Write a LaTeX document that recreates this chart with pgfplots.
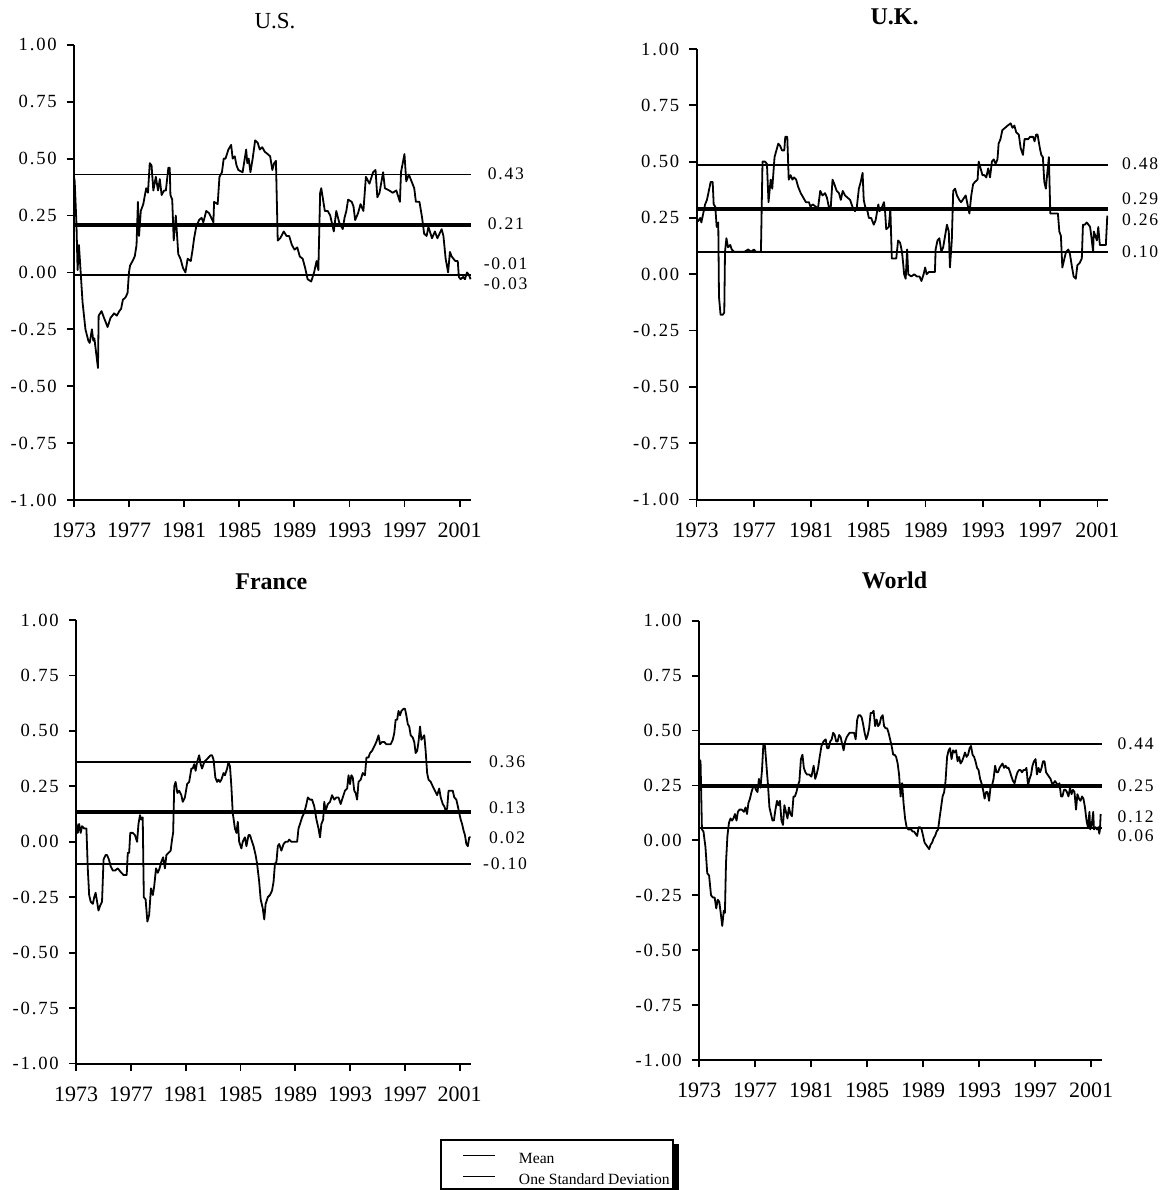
\documentclass[border=0pt]{standalone}
\usepackage{fontspec}
\setmainfont{Liberation Serif}
\newfontfamily\yfont[LetterSpace=10]{Liberation Serif}
\usepackage{pgfplots}
\pgfplotsset{compat=1.18}
\tikzset{vlab/.style={font=\yfont\fontsize{8.8bp}{10bp}\selectfont, anchor=west, inner sep=0pt}}
\pgfplotsset{
  panel/.style={
    scale only axis, anchor=south west, clip=false,
    axis lines=left, axis line style={-, line width=1bp},
    xmin=0, ymin=-1, ymax=1,
    xtick={0,4,...,28}, xticklabels={1973,1977,1981,1985,1989,1993,1997,2001},
    ytick={-1,-0.75,-0.5,-0.25,0,0.25,0.5,0.75,1},
    yticklabels={-1.00,-0.75,-0.50,-0.25,0.00,0.25,0.50,0.75,1.00},
    tick align=outside, major tick length=3.6bp,
    tick style={line width=0.9bp, black},
    minor tick num=0,
    xticklabel style={font=\fontsize{11bp}{13bp}\selectfont, yshift=-4.5bp},
    yticklabel style={font=\yfont\fontsize{9.3bp}{11bp}\selectfont, xshift=-1.5bp},
  },
  data/.style={black, line width=0.9bp, line join=round},
  meanl/.style={black, line width=1.9bp},
  sdl/.style={black, line width=0.9bp},
}
\begin{document}
\begin{tikzpicture}
\path[use as bounding box] (0,0) rectangle (583.5bp,-595bp);

% ---------------- U.S.
\begin{axis}[panel, at={(37bp,-250bp)}, width=198.7bp, height=227.6bp, xmax=28.85]
\addplot[sdl] coordinates {(0,0.43) (28.85,0.43)};
\addplot[meanl] coordinates {(0,0.21) (28.85,0.21)};
\addplot[sdl] coordinates {(0,-0.01) (28.85,-0.01)};
\addplot[data] coordinates {(0.00,0.42) (0.05,0.40) (0.18,0.21) (0.26,0.01) (0.36,0.12) (0.62,-0.13) (0.83,-0.25) (1.04,-0.30) (1.14,-0.31) (1.30,-0.25) (1.40,-0.30) (1.48,-0.29) (1.56,-0.33) (1.74,-0.42) (1.79,-0.19) (2.00,-0.17) (2.18,-0.20) (2.44,-0.24) (2.65,-0.20) (2.91,-0.18) (3.11,-0.19) (3.29,-0.17) (3.42,-0.16) (3.55,-0.12) (3.74,-0.11) (3.89,-0.09) (3.99,0.00) (4.07,0.03) (4.25,0.05) (4.41,0.07) (4.54,0.12) (4.64,0.31) (4.72,0.16) (4.85,0.27) (5.03,0.30) (5.24,0.37) (5.37,0.35) (5.50,0.48) (5.63,0.47) (5.76,0.36) (5.94,0.42) (6.10,0.36) (6.23,0.41) (6.36,0.34) (6.54,0.36) (6.67,0.36) (6.85,0.46) (6.95,0.46) (7.00,0.34) (7.13,0.32) (7.24,0.14) (7.39,0.25) (7.57,0.08) (7.73,0.06) (7.91,0.02) (8.09,0.00) (8.25,0.06) (8.48,0.05) (8.61,0.10) (8.72,0.15) (8.87,0.20) (9.08,0.23) (9.26,0.24) (9.39,0.22) (9.60,0.27) (9.81,0.26) (10.12,0.22) (10.17,0.31) (10.43,0.30) (10.56,0.42) (10.74,0.44) (10.87,0.50) (11.00,0.50) (11.21,0.54) (11.41,0.56) (11.52,0.50) (11.67,0.51) (11.80,0.47) (11.93,0.45) (12.24,0.44) (12.50,0.54) (12.58,0.48) (12.68,0.50) (12.81,0.44) (12.97,0.50) (13.15,0.58) (13.33,0.57) (13.49,0.54) (13.67,0.55) (13.85,0.53) (14.06,0.52) (14.24,0.51) (14.40,0.45) (14.53,0.48) (14.66,0.49) (14.79,0.14) (14.97,0.15) (15.23,0.18) (15.43,0.16) (15.62,0.16) (15.82,0.12) (16.01,0.10) (16.21,0.11) (16.39,0.07) (16.60,0.06) (16.78,0.02) (16.96,-0.03) (17.22,-0.04) (17.43,0.00) (17.61,0.05) (17.74,0.01) (17.87,0.35) (17.95,0.37) (18.08,0.32) (18.21,0.27) (18.42,0.27) (18.60,0.25) (18.86,0.18) (19.04,0.27) (19.25,0.22) (19.51,0.19) (19.64,0.24) (19.77,0.27) (19.90,0.32) (20.16,0.31) (20.29,0.29) (20.41,0.23) (20.62,0.26) (20.80,0.30) (21.01,0.27) (21.19,0.42) (21.45,0.39) (21.71,0.44) (21.89,0.45) (22.02,0.33) (22.18,0.35) (22.44,0.44) (22.57,0.37) (22.88,0.36) (23.14,0.35) (23.40,0.36) (23.66,0.31) (23.74,0.44) (23.99,0.52) (24.12,0.40) (24.31,0.43) (24.57,0.39) (24.70,0.37) (24.82,0.31) (25.08,0.31) (25.27,0.24) (25.42,0.17) (25.60,0.16) (25.73,0.20) (25.99,0.15) (26.20,0.18) (26.38,0.15) (26.69,0.19) (26.82,0.16) (26.98,0.06) (27.16,0.00) (27.29,0.09) (27.42,0.07) (27.68,0.05) (27.86,0.05) (27.94,-0.02) (28.07,-0.03) (28.25,-0.02) (28.38,-0.03) (28.53,0.00) (28.66,-0.01) (28.79,-0.03)};
\node[vlab, xshift=8bp] at (axis cs:28.85,0.434) {0.43};
\node[vlab, xshift=8bp] at (axis cs:28.85,0.215) {0.21};
\node[vlab, xshift=6bp] at (axis cs:28.85,0.038) {-0.01};
\node[vlab, xshift=6bp] at (axis cs:28.85,-0.050) {-0.03};
\end{axis}

% ---------------- U.K.
\begin{axis}[panel, at={(348.25bp,-249.75bp)}, width=205.75bp, height=225.25bp, xmax=28.74]
\addplot[sdl] coordinates {(0,0.485) (28.74,0.485)};
\addplot[meanl] coordinates {(0,0.29) (28.74,0.29)};
\addplot[sdl] coordinates {(0,0.10) (28.74,0.10)};
\addplot[data] coordinates {(0.00,0.23) (0.16,0.24) (0.26,0.25) (0.34,0.23) (0.47,0.27) (0.60,0.31) (0.73,0.33) (0.86,0.37) (0.99,0.41) (1.13,0.41) (1.20,0.31) (1.31,0.30) (1.41,0.21) (1.52,0.23) (1.57,-0.10) (1.68,-0.18) (1.83,-0.18) (1.94,-0.17) (1.99,0.10) (2.09,0.16) (2.20,0.12) (2.36,0.13) (2.46,0.11) (2.62,0.10) (2.83,0.10) (3.04,0.10) (3.35,0.10) (3.61,0.11) (3.82,0.10) (4.01,0.11) (4.14,0.10) (4.40,0.10) (4.50,0.10) (4.61,0.50) (4.79,0.50) (4.92,0.49) (5.03,0.32) (5.18,0.42) (5.29,0.38) (5.45,0.52) (5.58,0.55) (5.71,0.58) (5.84,0.57) (5.97,0.55) (6.13,0.55) (6.20,0.61) (6.34,0.61) (6.44,0.42) (6.57,0.44) (6.70,0.42) (6.81,0.43) (6.96,0.42) (7.09,0.39) (7.28,0.36) (7.46,0.34) (7.64,0.32) (7.85,0.32) (7.96,0.30) (8.12,0.31) (8.33,0.30) (8.48,0.29) (8.64,0.37) (8.80,0.35) (8.98,0.36) (9.11,0.34) (9.27,0.29) (9.37,0.29) (9.50,0.42) (9.63,0.40) (9.79,0.37) (9.95,0.36) (10.08,0.33) (10.21,0.37) (10.37,0.35) (10.55,0.34) (10.73,0.33) (10.89,0.30) (11.07,0.28) (11.20,0.30) (11.34,0.38) (11.47,0.41) (11.60,0.45) (11.68,0.33) (11.78,0.30) (11.94,0.28) (12.04,0.25) (12.20,0.25) (12.38,0.22) (12.51,0.24) (12.70,0.31) (12.78,0.28) (12.91,0.29) (13.09,0.32) (13.17,0.28) (13.25,0.20) (13.43,0.21) (13.54,0.29) (13.64,0.07) (13.77,0.07) (13.95,0.07) (14.08,0.15) (14.22,0.14) (14.35,0.10) (14.43,0.05) (14.50,0.00) (14.61,-0.02) (14.71,0.11) (14.79,0.00) (15.00,-0.01) (15.21,0.00) (15.39,-0.01) (15.58,-0.01) (15.71,-0.03) (15.86,0.00) (15.97,0.03) (16.07,0.00) (16.23,0.01) (16.39,0.01) (16.55,0.01) (16.65,0.01) (16.70,0.11) (16.83,0.15) (16.96,0.16) (17.10,0.10) (17.23,0.12) (17.36,0.17) (17.49,0.22) (17.62,0.19) (17.70,0.03) (17.83,0.15) (17.93,0.37) (18.06,0.38) (18.19,0.35) (18.35,0.33) (18.48,0.32) (18.59,0.33) (18.80,0.35) (18.93,0.31) (19.06,0.27) (19.19,0.35) (19.32,0.40) (19.45,0.41) (19.63,0.42) (19.71,0.50) (19.84,0.47) (19.97,0.44) (20.11,0.44) (20.24,0.43) (20.37,0.47) (20.50,0.43) (20.63,0.50) (20.76,0.51) (20.89,0.49) (21.02,0.51) (21.10,0.58) (21.23,0.60) (21.36,0.64) (21.55,0.65) (21.73,0.66) (21.94,0.67) (22.07,0.65) (22.20,0.66) (22.33,0.63) (22.51,0.62) (22.64,0.56) (22.80,0.53) (22.91,0.60) (23.04,0.60) (23.17,0.60) (23.30,0.61) (23.51,0.61) (23.61,0.59) (23.72,0.62) (23.82,0.62) (23.98,0.56) (24.08,0.53) (24.19,0.52) (24.29,0.41) (24.40,0.38) (24.50,0.45) (24.61,0.52) (24.71,0.27) (24.87,0.27) (25.08,0.27) (25.24,0.27) (25.34,0.19) (25.45,0.17) (25.55,0.03) (25.66,0.06) (25.81,0.10) (25.97,0.11) (26.08,0.09) (26.23,0.03) (26.34,-0.01) (26.49,-0.02) (26.60,0.04) (26.76,0.05) (26.91,0.07) (26.99,0.22) (27.12,0.22) (27.25,0.23) (27.38,0.22) (27.49,0.21) (27.57,0.17) (27.70,0.10) (27.75,0.19) (27.86,0.17) (27.96,0.15) (28.06,0.21) (28.17,0.13) (28.27,0.13) (28.38,0.13) (28.54,0.13) (28.59,0.13) (28.69,0.26)};
\node[vlab, xshift=6.9bp] at (axis cs:28.74,0.489) {0.48};
\node[vlab, xshift=6.9bp] at (axis cs:28.74,0.336) {0.29};
\node[vlab, xshift=6.9bp] at (axis cs:28.74,0.244) {0.26};
\node[vlab, xshift=6.9bp] at (axis cs:28.74,0.101) {0.10};
\end{axis}

% ---------------- France
\begin{axis}[panel, at={(38bp,-531.75bp)}, width=197.7bp, height=221.75bp, xmax=28.86]
\addplot[sdl] coordinates {(0,0.36) (28.86,0.36)};
\addplot[meanl] coordinates {(0,0.135) (28.86,0.135)};
\addplot[sdl] coordinates {(0,-0.10) (28.86,-0.10)};
\addplot[data] coordinates {(0.02,0.05) (0.05,0.08) (0.13,0.04) (0.23,0.08) (0.34,0.04) (0.44,0.07) (0.60,0.06) (0.76,0.06) (0.86,-0.12) (0.96,-0.24) (1.07,-0.27) (1.23,-0.28) (1.33,-0.25) (1.43,-0.23) (1.54,-0.27) (1.64,-0.31) (1.75,-0.29) (1.90,-0.27) (2.01,-0.08) (2.16,-0.06) (2.27,-0.06) (2.40,-0.08) (2.53,-0.11) (2.69,-0.13) (2.84,-0.13) (3.05,-0.12) (3.18,-0.13) (3.31,-0.14) (3.47,-0.15) (3.70,-0.15) (3.78,-0.05) (3.88,-0.05) (3.96,0.04) (4.15,0.04) (4.30,0.03) (4.46,0.00) (4.56,0.08) (4.67,0.12) (4.77,0.10) (4.87,0.11) (4.95,-0.25) (5.08,-0.26) (5.21,-0.36) (5.34,-0.33) (5.47,-0.21) (5.61,-0.24) (5.71,-0.20) (5.84,-0.12) (5.97,-0.14) (6.10,-0.12) (6.23,-0.09) (6.36,-0.07) (6.49,-0.12) (6.60,-0.06) (6.75,-0.05) (6.91,-0.04) (7.01,0.01) (7.09,0.04) (7.17,0.25) (7.27,0.27) (7.40,0.22) (7.53,0.23) (7.69,0.21) (7.79,0.18) (7.95,0.20) (8.11,0.26) (8.26,0.27) (8.42,0.33) (8.52,0.33) (8.63,0.35) (8.73,0.32) (8.84,0.36) (8.99,0.39) (9.10,0.35) (9.20,0.33) (9.36,0.36) (9.52,0.37) (9.67,0.38) (9.83,0.39) (9.93,0.39) (10.04,0.37) (10.17,0.29) (10.30,0.27) (10.40,0.28) (10.51,0.27) (10.61,0.28) (10.77,0.31) (10.87,0.30) (11.03,0.33) (11.13,0.36) (11.24,0.34) (11.34,0.25) (11.44,0.13) (11.60,0.06) (11.71,0.04) (11.81,0.09) (11.91,0.00) (12.07,-0.03) (12.17,0.00) (12.33,0.02) (12.44,-0.02) (12.59,0.03) (12.70,0.03) (12.85,0.00) (12.96,-0.02) (13.11,-0.06) (13.22,-0.10) (13.37,-0.18) (13.48,-0.26) (13.63,-0.30) (13.74,-0.35) (13.84,-0.28) (14.00,-0.25) (14.16,-0.24) (14.31,-0.22) (14.42,-0.18) (14.52,-0.10) (14.63,-0.09) (14.73,-0.02) (14.83,-0.01) (14.99,-0.04) (15.15,-0.01) (15.30,0.00) (15.46,0.00) (15.56,0.01) (15.72,0.00) (15.88,0.00) (16.03,0.00) (16.14,0.00) (16.24,0.06) (16.35,0.08) (16.50,0.11) (16.66,0.13) (16.82,0.17) (16.92,0.20) (17.08,0.19) (17.23,0.19) (17.39,0.16) (17.55,0.10) (17.70,0.06) (17.81,0.02) (17.91,0.08) (18.04,0.10) (18.12,0.18) (18.22,0.14) (18.38,0.17) (18.54,0.18) (18.69,0.21) (18.85,0.19) (19.01,0.20) (19.16,0.20) (19.32,0.17) (19.47,0.20) (19.63,0.23) (19.79,0.24) (19.89,0.30) (20.00,0.26) (20.10,0.30) (20.20,0.29) (20.31,0.23) (20.41,0.22) (20.52,0.19) (20.62,0.27) (20.78,0.28) (20.93,0.31) (21.09,0.30) (21.20,0.38) (21.35,0.38) (21.46,0.40) (21.61,0.41) (21.77,0.43) (21.92,0.45) (22.08,0.48) (22.19,0.44) (22.34,0.45) (22.50,0.45) (22.65,0.44) (22.81,0.44) (22.97,0.44) (23.12,0.46) (23.23,0.49) (23.33,0.55) (23.44,0.55) (23.54,0.59) (23.65,0.57) (23.75,0.59) (23.91,0.60) (24.01,0.60) (24.11,0.57) (24.22,0.53) (24.32,0.52) (24.43,0.48) (24.58,0.47) (24.69,0.45) (24.79,0.40) (24.90,0.41) (25.00,0.45) (25.11,0.52) (25.21,0.46) (25.31,0.47) (25.42,0.48) (25.52,0.41) (25.63,0.31) (25.73,0.28) (25.89,0.27) (26.04,0.25) (26.20,0.23) (26.36,0.21) (26.51,0.24) (26.62,0.20) (26.77,0.17) (26.88,0.16) (26.98,0.14) (27.09,0.15) (27.19,0.23) (27.35,0.23) (27.50,0.23) (27.61,0.20) (27.76,0.19) (27.87,0.16) (27.97,0.13) (28.08,0.10) (28.18,0.08) (28.29,0.05) (28.39,0.03) (28.49,-0.01) (28.60,-0.02) (28.70,0.02) (28.81,0.02)};
\node[vlab, xshift=8.6bp] at (axis cs:28.86,0.361) {0.36};
\node[vlab, xshift=8.6bp] at (axis cs:28.86,0.155) {0.13};
\node[vlab, xshift=8.6bp] at (axis cs:28.86,0.018) {0.02};
\node[vlab, xshift=5.7bp] at (axis cs:28.86,-0.10) {-0.10};
\end{axis}

% ---------------- World
\begin{axis}[panel, at={(349.5bp,-530bp)}, width=201.25bp, height=219.65bp, xmax=28.75,
  legend style={name=lgd, at={(-0.6435,-0.1798)}, anchor=north west, draw=black, line width=0.8bp, fill=white,
    font=\fontsize{7.8bp}{9bp}\selectfont, inner xsep=1.5bp, inner ysep=1.5bp,
    nodes={inner sep=0pt, text height=10.2bp, text depth=0.8bp}, row sep=-0.5bp,
    /tikz/every odd column/.append style={column sep=11.5bp}},
  legend cell align=left,
  legend image code/.code={\path (0bp,0bp); \draw[#1] (9.5bp,-0.8bp) -- (25.5bp,-0.8bp);}]
\addlegendimage{black, line width=0.6bp}
\addlegendentry{Mean}
\addlegendimage{black, line width=0.6bp}
\addlegendentry{One Standard Deviation}
\addplot[sdl, forget plot] coordinates {(0,0.437) (28.75,0.437)};
\addplot[meanl, forget plot] coordinates {(0,0.246) (28.75,0.246)};
\addplot[sdl, forget plot] coordinates {(0,0.056) (28.75,0.056)};
\addplot[data, forget plot] coordinates {(0.00,0.37) (0.11,0.36) (0.21,0.05) (0.32,0.04) (0.46,-0.03) (0.59,-0.15) (0.72,-0.16) (0.86,-0.25) (0.99,-0.26) (1.12,-0.26) (1.23,-0.31) (1.34,-0.27) (1.45,-0.28) (1.55,-0.33) (1.66,-0.39) (1.77,-0.32) (1.85,-0.33) (1.93,-0.10) (2.03,0.02) (2.14,0.08) (2.25,0.10) (2.36,0.09) (2.46,0.10) (2.57,0.12) (2.68,0.09) (2.78,0.13) (2.89,0.14) (3.05,0.14) (3.21,0.13) (3.32,0.15) (3.43,0.12) (3.53,0.17) (3.64,0.19) (3.75,0.22) (3.85,0.24) (3.96,0.25) (4.07,0.23) (4.18,0.22) (4.28,0.28) (4.39,0.24) (4.50,0.32) (4.60,0.44) (4.71,0.43) (4.82,0.34) (4.93,0.25) (5.03,0.15) (5.14,0.12) (5.25,0.09) (5.35,0.09) (5.46,0.14) (5.57,0.18) (5.67,0.16) (5.78,0.18) (5.89,0.09) (6.00,0.07) (6.10,0.16) (6.21,0.13) (6.32,0.10) (6.42,0.15) (6.53,0.12) (6.64,0.11) (6.75,0.20) (6.85,0.20) (6.96,0.22) (7.07,0.25) (7.17,0.27) (7.28,0.37) (7.39,0.39) (7.49,0.33) (7.60,0.31) (7.71,0.30) (7.87,0.30) (8.03,0.29) (8.19,0.34) (8.30,0.28) (8.40,0.30) (8.51,0.33) (8.62,0.38) (8.75,0.43) (8.89,0.45) (9.05,0.46) (9.15,0.42) (9.26,0.42) (9.37,0.45) (9.48,0.46) (9.58,0.49) (9.69,0.48) (9.80,0.45) (9.90,0.45) (10.01,0.48) (10.12,0.47) (10.22,0.44) (10.33,0.41) (10.44,0.45) (10.55,0.47) (10.65,0.48) (10.76,0.49) (10.92,0.49) (11.08,0.49) (11.19,0.46) (11.30,0.55) (11.40,0.57) (11.51,0.57) (11.62,0.56) (11.72,0.53) (11.83,0.49) (11.94,0.46) (12.05,0.48) (12.15,0.51) (12.26,0.58) (12.37,0.58) (12.47,0.59) (12.58,0.52) (12.69,0.55) (12.79,0.52) (12.90,0.53) (13.01,0.56) (13.12,0.57) (13.22,0.52) (13.33,0.51) (13.44,0.51) (13.54,0.49) (13.65,0.46) (13.76,0.43) (13.87,0.39) (13.97,0.39) (14.08,0.38) (14.19,0.35) (14.29,0.30) (14.40,0.20) (14.51,0.26) (14.61,0.17) (14.72,0.10) (14.83,0.06) (14.94,0.05) (15.04,0.05) (15.15,0.05) (15.26,0.04) (15.36,0.04) (15.47,0.03) (15.58,0.02) (15.69,0.06) (15.79,0.06) (15.90,0.05) (16.01,0.02) (16.11,-0.01) (16.22,-0.02) (16.33,-0.03) (16.44,-0.04) (16.54,-0.02) (16.65,-0.01) (16.76,0.01) (16.86,0.02) (16.97,0.04) (17.08,0.05) (17.18,0.10) (17.29,0.15) (17.40,0.20) (17.51,0.22) (17.61,0.27) (17.72,0.38) (17.83,0.41) (17.93,0.42) (18.04,0.37) (18.15,0.41) (18.26,0.40) (18.36,0.41) (18.47,0.36) (18.58,0.38) (18.68,0.35) (18.79,0.36) (18.90,0.38) (19.00,0.40) (19.11,0.38) (19.22,0.39) (19.33,0.42) (19.43,0.43) (19.54,0.39) (19.65,0.38) (19.75,0.36) (19.86,0.33) (19.97,0.32) (20.08,0.28) (20.18,0.26) (20.29,0.23) (20.40,0.19) (20.50,0.22) (20.61,0.22) (20.72,0.18) (20.82,0.24) (20.93,0.25) (21.04,0.28) (21.15,0.34) (21.25,0.31) (21.36,0.31) (21.47,0.33) (21.57,0.34) (21.68,0.35) (21.79,0.33) (21.90,0.34) (22.00,0.33) (22.11,0.33) (22.22,0.31) (22.32,0.29) (22.43,0.27) (22.54,0.26) (22.65,0.29) (22.75,0.31) (22.86,0.32) (22.97,0.32) (23.07,0.31) (23.18,0.32) (23.29,0.32) (23.39,0.33) (23.50,0.25) (23.61,0.28) (23.72,0.30) (23.82,0.34) (23.93,0.36) (24.04,0.37) (24.14,0.30) (24.25,0.33) (24.36,0.31) (24.47,0.33) (24.57,0.36) (24.68,0.36) (24.79,0.31) (24.89,0.30) (25.00,0.29) (25.11,0.28) (25.21,0.26) (25.32,0.26) (25.43,0.27) (25.54,0.26) (25.64,0.25) (25.75,0.26) (25.86,0.20) (25.96,0.20) (26.07,0.23) (26.18,0.23) (26.28,0.22) (26.39,0.20) (26.50,0.24) (26.61,0.21) (26.71,0.23) (26.82,0.22) (26.93,0.14) (27.03,0.21) (27.14,0.19) (27.25,0.18) (27.36,0.20) (27.46,0.19) (27.57,0.15) (27.68,0.09) (27.78,0.06) (27.89,0.13) (27.94,0.05) (28.05,0.07) (28.16,0.13) (28.21,0.05) (28.32,0.06) (28.43,0.05) (28.53,0.06) (28.59,0.03) (28.64,0.05) (28.69,0.12)};
\node[vlab, xshift=7.9bp] at (axis cs:28.75,0.44) {0.44};
\node[vlab, xshift=7.9bp] at (axis cs:28.75,0.25) {0.25};
\node[vlab, xshift=7.9bp] at (axis cs:28.75,0.106) {0.12};
\node[vlab, xshift=7.9bp] at (axis cs:28.75,0.023) {0.06};
\end{axis}

% legend shadow (right and bottom strips)
\fill[black] ([xshift=0.4bp,yshift=-2.5bp]lgd.north east) rectangle ([xshift=2.9bp,yshift=-0.4bp]lgd.south east);
\fill[black] ([xshift=2.5bp,yshift=-0.4bp]lgd.south west) rectangle ([xshift=2.9bp,yshift=-2.9bp]lgd.south east);

% titles
\node[font=\fontsize{11.5bp}{13bp}\selectfont] at (137.5bp,-10.35bp) {U.S.};
\node[font=\bfseries\fontsize{12bp}{14bp}\selectfont] at (447.25bp,-8.6bp) {U.K.};
\node[font=\bfseries\fontsize{12bp}{14bp}\selectfont] at (135.7bp,-290.85bp) {France};
\node[font=\bfseries\fontsize{12bp}{14bp}\selectfont] at (447.25bp,-290bp) {World};
\end{tikzpicture}
\end{document}
